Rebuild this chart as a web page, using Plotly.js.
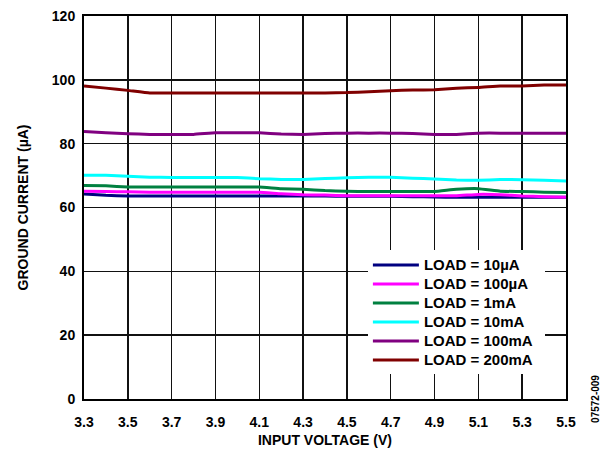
<!DOCTYPE html>
<html>
<head>
<meta charset="utf-8">
<script src="https://cdn.plot.ly/plotly-3.0.1.min.js"></script>
<style>
html,body{margin:0;padding:0;background:#fff;}
#chart{width:605px;height:456px;}
</style>
</head>
<body>
<div id="chart"></div>
<script>
// Input voltage (V)
const voltage = [3.3,3.4,3.5,3.6,3.7,3.8,3.9,4.0,4.1,4.2,4.3,4.4,4.5,4.6,4.7,4.8,4.9,5.0,5.1,5.2,5.3,5.4,5.5];
// Ground current (µA) per load
const load10uA  = [64.2,63.8,63.6,63.6,63.6,63.6,63.6,63.6,63.6,63.6,63.6,63.6,63.5,63.5,63.5,63.4,63.3,63.2,63.2,63.2,63.2,63.2,63.2];
const load100uA = [65.1,65.0,64.9,64.8,64.8,64.8,64.8,64.8,64.8,64.3,64.0,63.9,63.7,63.7,63.7,63.7,63.7,63.7,64.1,64.0,63.6,63.4,63.2];
const load1mA   = [66.9,66.8,66.4,66.4,66.4,66.4,66.4,66.4,66.4,65.9,65.7,65.3,65.1,65.0,65.0,65.0,65.0,65.7,65.9,65.1,65.0,64.8,64.7];
const load10mA  = [70.1,70.1,69.8,69.5,69.4,69.4,69.4,69.4,69.0,68.8,68.8,69.1,69.3,69.5,69.5,69.2,68.9,68.6,68.5,68.8,68.7,68.5,68.3];
const load100mA = [83.8,83.4,83.1,82.9,82.9,82.9,83.4,83.4,83.4,83.0,82.9,83.2,83.3,83.3,83.3,83.2,82.9,82.9,83.3,83.3,83.3,83.3,83.3];
const load200mA = [98.1,97.4,96.7,95.9,95.9,95.9,95.9,95.9,95.9,95.9,95.9,95.9,96.0,96.3,96.6,96.8,96.9,97.4,97.6,98.1,98.1,98.4,98.4];

const names = ["LOAD = 10µA","LOAD = 100µA","LOAD = 1mA","LOAD = 10mA","LOAD = 100mA","LOAD = 200mA"];
const colors = ["#000080","#FF00FF","#008040","#00FFFF","#800080","#800000"];
const series = [load10uA, load100uA, load1mA, load10mA, load100mA, load200mA];

const FONT = "Arial, 'Liberation Sans', Helvetica, sans-serif";

const traces = series.map((s,i)=>({
  x: voltage, y: s, name: names[i], type: "scatter", mode: "lines",
  line: {color: colors[i], width: 3, shape: "spline", smoothing: 0.3}
}));

const layout = {
  width: 605, height: 456,
  margin: {l: 84, r: 39, t: 16, b: 57},
  paper_bgcolor: "#fff", plot_bgcolor: "#fff",
  font: {family: FONT, color: "#000", size: 14, weight: "bold"},
  showlegend: true,
  legend: {
    x: 0.589, y: 0.388, xanchor: "left", yanchor: "top",
    bgcolor: "#fff", borderwidth: 0, itemwidth: 46,
    font: {family: FONT, size: 12.3, color: "#000", weight: "bold"},
    traceorder: "normal", tracegroupgap: 0
  },
  xaxis: {
    range: [3.3, 5.5], tick0: 3.3, dtick: 0.2, tickformat: ".1f",
    showgrid: true, gridcolor: "#111", gridwidth: 1.5,
    showline: true, linecolor: "#000", linewidth: 2, mirror: true,
    ticks: "", zeroline: false, ticklabelstandoff: 9,
    tickfont: {family: FONT, size: 14, color: "#000", weight: "bold"},
    title: {text: "INPUT VOLTAGE (V)", font: {family: FONT, size: 14, color: "#000", weight: "bold"}, standoff: 6}
  },
  yaxis: {
    range: [0, 120], dtick: 20,
    showgrid: true, gridcolor: "#111", gridwidth: 1.5,
    showline: true, linecolor: "#000", linewidth: 2, mirror: true,
    ticks: "", zeroline: false, ticklabelstandoff: 4,
    tickfont: {family: FONT, size: 14, color: "#000", weight: "bold"},
    title: {text: "GROUND CURRENT (µA)", font: {family: FONT, size: 14, color: "#000", weight: "bold"}, standoff: 20}
  },
  annotations: [{
    text: "07572-009", xref: "paper", yref: "paper", x: 1.06, y: 0.0,
    xanchor: "center", yanchor: "middle", textangle: -90, showarrow: false,
    font: {family: FONT, size: 10, color: "#000"}
  }]
};

const gd = document.getElementById("chart");
Plotly.newPlot(gd, traces, layout, {displayModeBar: false, staticPlot: true}).then(() => {
  // enlarge legend text while keeping the compact row spacing of the original
  const leg = gd.querySelector(".legend");
  if (!leg) return;
  let maxR = 0;
  leg.querySelectorAll(".legendtext").forEach(t => {
    t.style.fontSize = "15px";
    const b = t.getBBox();
    maxR = Math.max(maxR, b.x + b.width);
  });
  const w = maxR + 12;
  const bg = leg.querySelector("rect.bg");
  if (bg) bg.setAttribute("width", w);
  document.querySelectorAll('clipPath[id^="legend"] rect').forEach(r => r.setAttribute("width", w + 4));
});
</script>
</body>
</html>
